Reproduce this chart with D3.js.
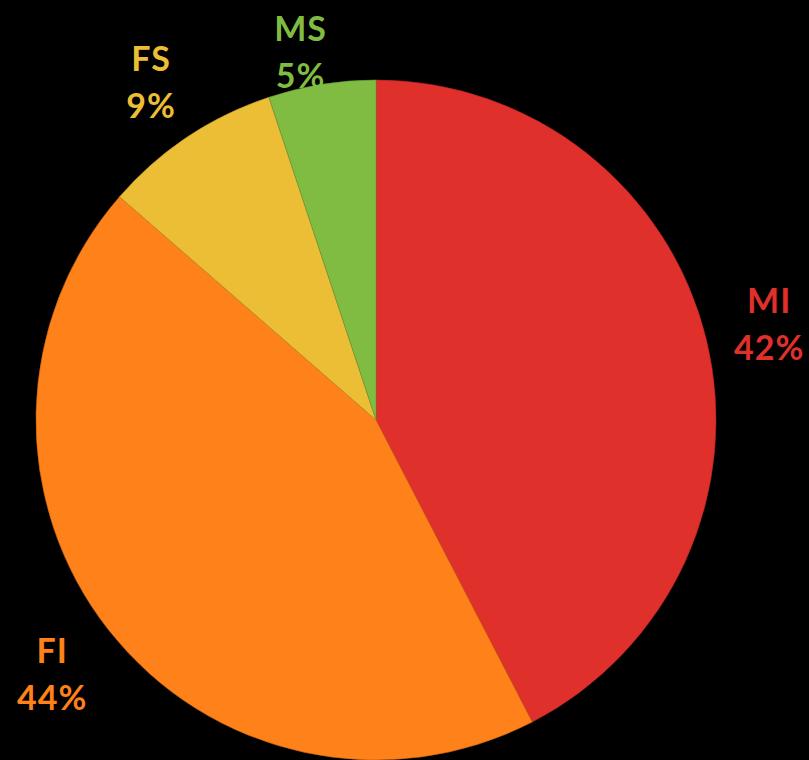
<!DOCTYPE html>
<html><head><meta charset="utf-8">
<script src="https://cdn.jsdelivr.net/npm/d3@7/dist/d3.min.js"></script>
<style>html,body{margin:0;padding:0;background:#000;}svg{display:block;}</style>
</head><body>
<svg id="chart" width="809" height="760"></svg>
<script>
const categories = ["MI", "FI", "FS", "MS"];
const values = [42.4, 44.0, 8.5, 5.1];
const labels = ["42%", "44%", "9%", "5%"];
const colors = ["#E0302B", "#FF8119", "#EBBE35", "#80BC42"];

const W = 809, H = 760, cx = 376, cy = 420, R = 340;
const svg = d3.select("#chart");
svg.append("rect").attr("width", W).attr("height", H).attr("fill", "#000");
const g = svg.append("g").attr("transform", `translate(${cx},${cy})`);

const data = categories.map((c, i) => ({cat: c, value: values[i], label: labels[i], color: colors[i]}));
const pie = d3.pie().value(d => d.value).sort(null);
const arc = d3.arc().innerRadius(0).outerRadius(R);
const arcs = pie(data);

g.selectAll("path").data(arcs).join("path")
  .attr("d", arc)
  .attr("fill", d => d.data.color)
  .attr("stroke", d => d3.color(d.data.color).darker(0.6))
  .attr("stroke-width", 0.6);

const fs = 34, lineGap = 47, gap = 22;
const lg = g.append("g").attr("font-family", "Lato, 'Open Sans', sans-serif")
  .attr("font-weight", "bold").attr("font-size", fs).attr("text-anchor", "middle")
  .attr("letter-spacing", 1);

arcs.forEach(a => {
  const t = (a.startAngle + a.endAngle) / 2;
  const sx = Math.sin(t), sy = -Math.cos(t);
  const tmp = lg.append("text").text(a.data.label);
  const w = Math.max(tmp.node().getComputedTextLength(), 40);
  tmp.remove();
  const h = 72;
  const ext = (w / 2) * Math.abs(sx) + (h / 2) * Math.abs(sy);
  const rr = R + gap + ext;
  let x = rr * sx, y = rr * sy;
  const minY = 16 + h / 2 - cy;
  if (y < minY) { x -= (minY - y) * 0.4; y = minY; }
  lg.append("text").attr("x", x).attr("y", y - 11.5).attr("fill", a.data.color).text(a.data.cat);
  lg.append("text").attr("x", x).attr("y", y + 35.5).attr("fill", a.data.color).text(a.data.label);
});
</script>
</body></html>
